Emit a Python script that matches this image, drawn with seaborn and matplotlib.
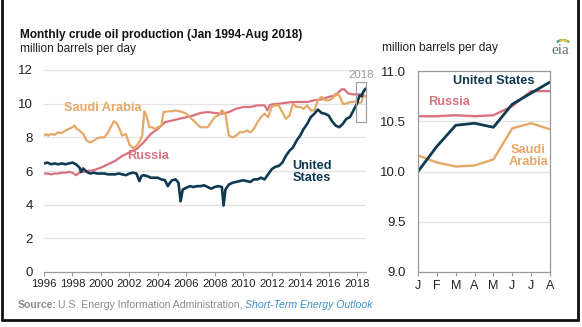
import matplotlib
matplotlib.use("Agg")
import matplotlib.pyplot as plt
import seaborn as sns
import numpy as np
from matplotlib.patches import Rectangle, Arc
from matplotlib.lines import Line2D

sns.set_theme(style="white")
plt.rcParams['font.family'] = ['Liberation Sans', 'DejaVu Sans']

# ---------------- data ----------------
us_x = [1996.0, 1996.25, 1996.5, 1996.75, 1997.0, 1997.25, 1997.5, 1997.75, 1998.0, 1998.25,
        1998.5, 1998.6, 1998.75, 1999.0, 1999.25, 1999.5, 1999.75, 2000.0, 2000.25, 2000.5,
        2000.75, 2001.0, 2001.25, 2001.5, 2001.75, 2002.0, 2002.25, 2002.5, 2002.7, 2002.85,
        2003.0, 2003.25, 2003.5, 2003.75, 2004.0, 2004.25, 2004.5, 2004.7, 2004.85, 2005.0,
        2005.25, 2005.45, 2005.6, 2005.75, 2006.0, 2006.25, 2006.5, 2006.75, 2007.0, 2007.25,
        2007.5, 2007.75, 2008.0, 2008.25, 2008.5, 2008.62, 2008.75, 2009.0, 2009.25, 2009.5,
        2009.75, 2010.0, 2010.25, 2010.5, 2010.75, 2011.0, 2011.25, 2011.5, 2011.75, 2012.0,
        2012.25, 2012.5, 2012.75, 2013.0, 2013.25, 2013.5, 2013.75, 2014.0, 2014.25, 2014.5,
        2014.75, 2015.0, 2015.25, 2015.5, 2015.75, 2016.0, 2016.25, 2016.5, 2016.75, 2017.0,
        2017.25, 2017.5, 2017.75]
us_y = [6.45, 6.5, 6.4, 6.45, 6.4, 6.45, 6.4, 6.45, 6.5, 6.4,
        6.2, 5.95, 6.15, 5.95, 5.85, 5.9, 5.85, 5.85, 5.85, 5.8,
        5.8, 5.8, 5.85, 5.8, 5.75, 5.85, 5.9, 5.85, 5.4, 5.7,
        5.75, 5.7, 5.6, 5.6, 5.6, 5.5, 5.45, 5.1, 5.3, 5.45,
        5.5, 5.3, 4.2, 4.9, 5.0, 5.1, 5.05, 5.1, 5.1, 5.15,
        5.05, 4.95, 5.05, 5.1, 5.05, 3.95, 4.9, 5.2, 5.3, 5.35,
        5.4, 5.45, 5.4, 5.35, 5.5, 5.5, 5.6, 5.5, 5.8, 6.1,
        6.25, 6.3, 6.5, 6.9, 7.2, 7.4, 7.8, 8.1, 8.5, 8.8,
        9.2, 9.4, 9.65, 9.45, 9.4, 9.3, 8.95, 8.7, 8.6, 8.8,
        9.1, 9.2, 9.6]

ru_x = [1996.0, 1996.25, 1996.5, 1996.75, 1997.0, 1997.25, 1997.5, 1997.75, 1998.0, 1998.25,
        1998.5, 1998.75, 1999.0, 1999.5, 2000.0, 2000.5, 2001.0, 2001.5, 2002.0, 2002.5,
        2003.0, 2003.5, 2004.0, 2004.5, 2005.0, 2005.5, 2006.0, 2006.5, 2007.0, 2007.5,
        2008.0, 2008.5, 2009.0, 2009.5, 2010.0, 2010.5, 2011.0, 2011.5, 2011.7, 2011.85,
        2012.0, 2012.5, 2013.0, 2013.5, 2014.0, 2014.5, 2015.0, 2015.5, 2016.0, 2016.5,
        2016.9, 2017.1, 2017.4, 2017.75]
ru_y = [5.85, 5.85, 5.8, 5.85, 5.85, 5.9, 5.9, 5.95, 5.9, 5.75,
        5.9, 5.95, 6.0, 6.05, 6.2, 6.4, 6.6, 6.9, 7.1, 7.3,
        7.7, 8.2, 8.5, 8.9, 9.0, 9.1, 9.2, 9.3, 9.45, 9.5,
        9.45, 9.4, 9.5, 9.7, 9.8, 9.8, 9.9, 9.9, 9.6, 9.9,
        9.95, 10.0, 10.05, 10.1, 10.1, 10.1, 10.2, 10.25, 10.4, 10.5,
        10.85, 10.85, 10.6, 10.55]

sa_x = [1996.0, 1996.15, 1996.3, 1996.5, 1996.75, 1997.0, 1997.25, 1997.5, 1997.75, 1998.0,
        1998.15, 1998.3, 1998.5, 1998.75, 1999.0, 1999.25, 1999.5, 1999.75, 2000.0, 2000.25,
        2000.5, 2000.75, 2000.9, 2001.1, 2001.3, 2001.5, 2001.75, 2002.0, 2002.25, 2002.5,
        2002.75, 2002.9, 2003.05, 2003.2, 2003.4, 2003.6, 2003.8, 2004.0, 2004.25, 2004.4,
        2004.75, 2005.0, 2005.25, 2005.5, 2005.75, 2006.0, 2006.25, 2006.5, 2006.75, 2007.0,
        2007.25, 2007.5, 2007.75, 2008.0, 2008.25, 2008.5, 2008.75, 2008.9, 2009.0, 2009.25,
        2009.5, 2009.75, 2010.0, 2010.25, 2010.5, 2010.75, 2011.0, 2011.25, 2011.5, 2011.75,
        2012.0, 2012.25, 2012.5, 2012.75, 2013.0, 2013.25, 2013.5, 2013.75, 2014.0, 2014.25,
        2014.5, 2014.75, 2015.0, 2015.25, 2015.5, 2015.75, 2016.0, 2016.25, 2016.5, 2016.75,
        2017.0, 2017.25, 2017.5, 2017.75]
sa_y = [8.1, 8.2, 8.1, 8.2, 8.15, 8.3, 8.25, 8.4, 8.5, 8.6,
        8.7, 8.5, 8.4, 8.2, 7.8, 7.7, 7.8, 7.95, 8.0, 8.0,
        8.3, 8.7, 8.95, 8.85, 8.5, 8.1, 8.2, 7.6, 7.35, 7.5,
        7.8, 8.1, 9.55, 9.3, 8.6, 8.6, 8.5, 8.6, 8.7, 9.5,
        9.55, 9.55, 9.6, 9.55, 9.5, 9.4, 9.2, 9.0, 8.8, 8.6,
        8.6, 8.6, 8.9, 9.2, 9.3, 9.6, 9.4, 8.6, 8.1, 8.0,
        8.1, 8.3, 8.3, 8.4, 8.3, 8.5, 8.9, 9.2, 9.4, 9.2,
        9.8, 9.9, 9.9, 9.5, 9.1, 9.3, 10.0, 9.8, 9.8, 9.7,
        9.9, 9.6, 9.6, 10.2, 10.4, 10.2, 10.2, 10.3, 10.6, 10.5,
        10.0, 10.0, 10.1, 10.1]

months_2018 = ["J", "F", "M", "A", "M", "J", "J", "A"]
us_2018 = [10.00, 10.25, 10.46, 10.48, 10.44, 10.67, 10.78, 10.89]
ru_2018 = [10.55, 10.55, 10.56, 10.55, 10.56, 10.65, 10.80, 10.80]
sa_2018 = [10.16, 10.09, 10.05, 10.06, 10.12, 10.43, 10.48, 10.42]

year_ticks = list(range(1996, 2019, 2))
left_yticks = [0, 2, 4, 6, 8, 10, 12]
right_yticks = [9.0, 9.5, 10.0, 10.5, 11.0]

# ---------------- style ----------------
C_US = "#0e3a52"
C_RU = "#d9727e"
C_SA = "#e6a867"
GRID = "#e3e3e3"
AX = "#9a9a9a"

W, H = 582, 327
fig = plt.figure(figsize=(W / 100, H / 100), dpi=100)

def box(l, r, t, b):
    return [l / W, 1 - b / H, (r - l) / W, (b - t) / H]

m_x = [2018 + i / 12 for i in range(len(months_2018))]

axL = fig.add_axes(box(44, 366, 70, 272))
sns.lineplot(x=ru_x + m_x, y=ru_y + ru_2018, ax=axL, color=C_RU, lw=1.6)
sns.lineplot(x=sa_x + m_x, y=sa_y + sa_2018, ax=axL, color=C_SA, lw=1.6)
sns.lineplot(x=us_x + m_x, y=us_y + us_2018, ax=axL, color=C_US, lw=1.9)
axL.set_xlim(1996, 2018.63)
axL.set_ylim(0, 12)
axL.set_yticks(left_yticks)
axL.set_xticks(year_ticks)
axL.set_xticklabels([str(y) for y in year_ticks], fontsize=8.2, color="#222222")
axL.set_yticklabels([str(v) for v in left_yticks], fontsize=9.5, color="#222222")
axL.tick_params(axis="x", length=3, width=0.8, color=AX, pad=2, bottom=True)
axL.tick_params(axis="y", length=0, pad=8)
for v in left_yticks[1:]:
    axL.axhline(v, color=GRID, lw=0.9, zorder=0)
for s in ["top", "right", "left"]:
    axL.spines[s].set_visible(False)
axL.spines["bottom"].set_color(AX)
axL.spines["bottom"].set_linewidth(0.9)
axL.set_xlabel("")
axL.set_ylabel("")
axL.add_patch(Rectangle((2017.96, 8.9), 0.67, 2.4, fill=False, ec="#a0a0a0", lw=0.9,
                        clip_on=False, zorder=5))
axL.text(2018.3, 11.42, "2018", color="#9a9a9a", fontsize=8.2, ha="center", va="bottom")

axL.text(2000.1, 9.72, "Saudi Arabia", color=C_SA, fontsize=9.2, fontweight="bold", ha="center", va="center")
axL.text(2003.3, 6.9, "Russia", color=C_RU, fontsize=9.2, fontweight="bold", ha="center", va="center")
axL.text(2014.85, 5.95, "United\nStates", color=C_US, fontsize=9.2, fontweight="bold",
         ha="center", va="center", linespacing=1.0)

axR = fig.add_axes(box(418, 550, 71, 272))
xr = list(range(len(months_2018)))
sns.lineplot(x=xr, y=ru_2018, ax=axR, color=C_RU, lw=1.7)
sns.lineplot(x=xr, y=sa_2018, ax=axR, color=C_SA, lw=1.7)
sns.lineplot(x=xr, y=us_2018, ax=axR, color=C_US, lw=2.0)
axR.set_xlim(0, 7)
axR.set_ylim(9.0, 11.0)
axR.set_xticks(xr)
axR.set_xticklabels(months_2018, fontsize=9, color="#222222")
axR.set_yticks(right_yticks)
axR.set_yticklabels([f"{v:.1f}" for v in right_yticks], fontsize=9.5, color="#222222")
axR.tick_params(axis="x", length=3, width=0.8, color=AX, pad=3, bottom=True)
axR.tick_params(axis="y", length=0, pad=9)
for v in [9.5, 10.0, 10.5]:
    axR.axhline(v, color=GRID, lw=0.9, zorder=0)
for s in ["top", "right", "left", "bottom"]:
    axR.spines[s].set_color(AX)
    axR.spines[s].set_linewidth(0.9)
axR.set_xlabel("")
axR.set_ylabel("")
axR.text(4.0, 10.9, "United States", color=C_US, fontsize=9.2, fontweight="bold", ha="center", va="center")
axR.text(1.65, 10.69, "Russia", color=C_RU, fontsize=9.2, fontweight="bold", ha="center", va="center")
axR.text(5.85, 10.15, "Saudi\nArabia", color=C_SA, fontsize=9.2, fontweight="bold",
         ha="center", va="center", linespacing=1.0)

# ---------------- figure texts ----------------
fig.text(20 / W, 1 - 35 / H, "Monthly crude oil production (Jan 1994-Aug 2018)", fontsize=8.6,
         fontweight="bold", color="#111111", va="center", ha="left")
fig.text(20 / W, 1 - 49 / H, "million barrels per day", fontsize=8.6, color="#222222", va="center")
fig.text(382 / W, 1 - 48 / H, "million barrels per day", fontsize=8.6, color="#222222", va="center")

# eia logo
axLogo = fig.add_axes(box(549, 575, 36, 57))
axLogo.set_xlim(0, 26)
axLogo.set_ylim(0, 21)
axLogo.axis("off")
axLogo.text(11, 6, "eia", fontsize=11, family="Liberation Serif", color="#5a6a72",
            ha="center", va="center")
axLogo.add_patch(Arc((14, 4), 22, 26, theta1=60, theta2=120, color="#2a8fc7", lw=1.6))
axLogo.add_patch(Arc((14, 6), 18, 22, theta1=55, theta2=115, color="#7cbf4a", lw=1.4))
axLogo.add_patch(Arc((14, 8), 14, 18, theta1=50, theta2=110, color="#f2c230", lw=1.2))

fig.text(18 / W, 1 - 305 / H, "Source:", fontsize=7.6, fontweight="bold", color="#8a8a8a", va="center")
fig.text(58 / W, 1 - 305 / H, "U.S. Energy Information Administration,", fontsize=7.6,
         color="#8a8a8a", va="center")
fig.text(245 / W, 1 - 305 / H, "Short-Term Energy Outlook", fontsize=7.6, style="italic",
         color="#3a8fc9", va="center")

# outer frame (left, right, bottom)
for xs, ys in [([2, 2], [0, 320]), ([578, 578], [0, 320]), ([2, 578], [320, 320])]:
    fig.add_artist(Line2D([x / W for x in xs], [1 - y / H for y in ys], transform=fig.transFigure,
                          color="#111111", lw=2.0))

fig.savefig("out.png", dpi=100)
